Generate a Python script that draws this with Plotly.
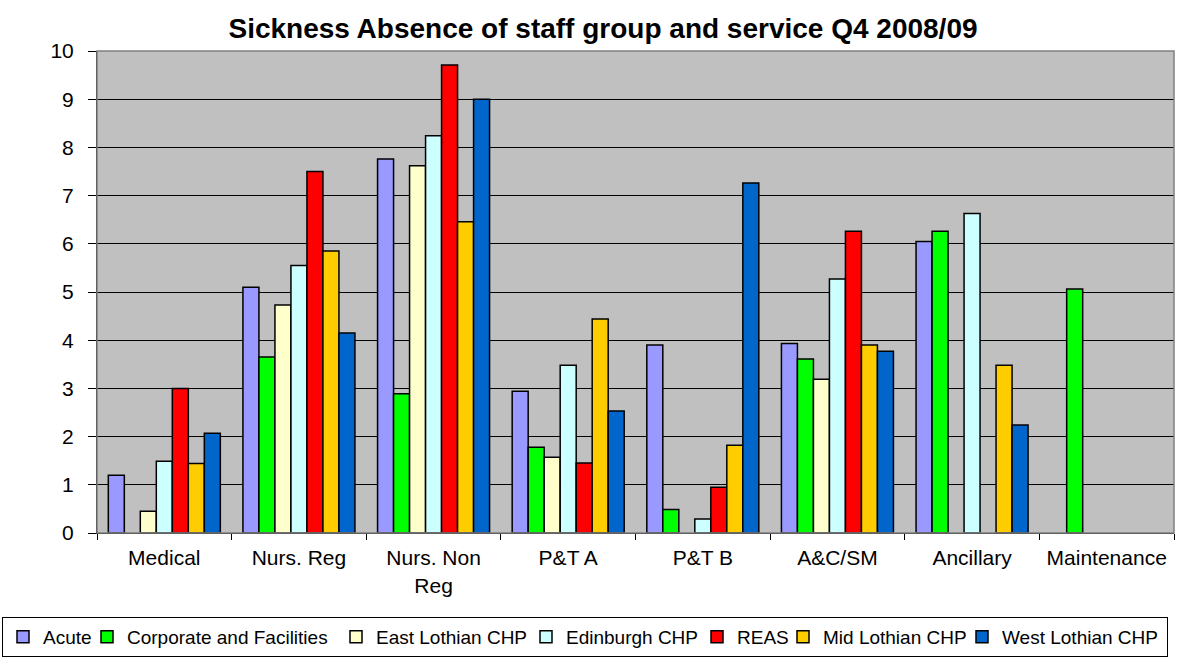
import plotly.graph_objects as go

categories = ["Medical", "Nurs. Reg", "Nurs. Non<br>Reg", "P&T A", "P&T B", "A&C/SM", "Ancillary", "Maintenance"]

acute = [1.20, 5.10, 7.76, 2.94, 3.90, 3.93, 6.05, None]
corporate = [None, 3.65, 2.89, 1.78, 0.49, 3.61, 6.26, 5.06]
east_lothian = [0.45, 4.73, 7.62, 1.57, None, 3.19, None, None]
edinburgh = [1.49, 5.55, 8.24, 3.48, 0.29, 5.27, 6.63, None]
reas = [3.00, 7.50, 9.71, 1.45, 0.95, 6.26, None, None]
mid_lothian = [1.44, 5.85, 6.46, 4.44, 1.82, 3.90, 3.48, None]
west_lothian = [2.07, 4.15, 9.00, 2.53, 7.26, 3.77, 2.24, None]

series_names = ["Acute", "Corporate and Facilities", "East Lothian CHP", "Edinburgh CHP",
                "REAS", "Mid Lothian CHP", "West Lothian CHP"]
series_values = [acute, corporate, east_lothian, edinburgh, reas, mid_lothian, west_lothian]
series_colors = ["#9999FF", "#00FF00", "#FFFFCC", "#CCFFFF", "#FF0000", "#FFCC00", "#0066CC"]
# horizontal room given to each legend entry (px)
legend_widths = [39, 204, 145, 126, 41, 134, 160]

fig = go.Figure()
for name, values, color, lw in zip(series_names, series_values, series_colors, legend_widths):
    fig.add_trace(go.Bar(
        name=name, x=categories, y=values,
        marker=dict(color=color, line=dict(color="black", width=1.5)),
        legendwidth=lw,
    ))

font = "Liberation Sans, Arial, sans-serif"
fig.update_layout(
    width=1192, height=660,
    margin=dict(l=97, r=18, t=51, b=127, autoexpand=False),
    paper_bgcolor="white",
    plot_bgcolor="#C0C0C0",
    barmode="group",
    bargap=0.168,
    bargroupgap=0,
    font=dict(family=font, size=21, color="black"),
    title=dict(text="<b>Sickness Absence of staff group and service Q4 2008/09</b>",
               x=603 / 1192, xanchor="center", y=1 - 28 / 660, yanchor="middle",
               font=dict(family=font, size=28, color="black")),
    showlegend=True,
    legend=dict(orientation="h",
                x=-95 / 1077, xanchor="left", y=-84 / 482, yanchor="top",
                bordercolor="black", borderwidth=1, bgcolor="white",
                font=dict(family=font, size=19), itemwidth=30,
                tracegroupgap=0),
    xaxis=dict(showline=True, linecolor="black", linewidth=1,
               ticks="outside", ticklen=6, tickcolor="black", tickson="boundaries",
               ticklabelstandoff=6, showgrid=False),
    yaxis=dict(range=[0, 10], dtick=1, showline=True, linecolor="black", linewidth=1,
               ticks="outside", ticklen=8, tickcolor="black", ticklabelstandoff=10,
               showgrid=True, gridcolor="black", gridwidth=1, zeroline=False),
)
fig.add_shape(type="rect", xref="paper", yref="paper", x0=0, y0=0, x1=1, y1=1,
              line=dict(color="#808080", width=1.5), layer="above")

fig.write_html("out.html")
